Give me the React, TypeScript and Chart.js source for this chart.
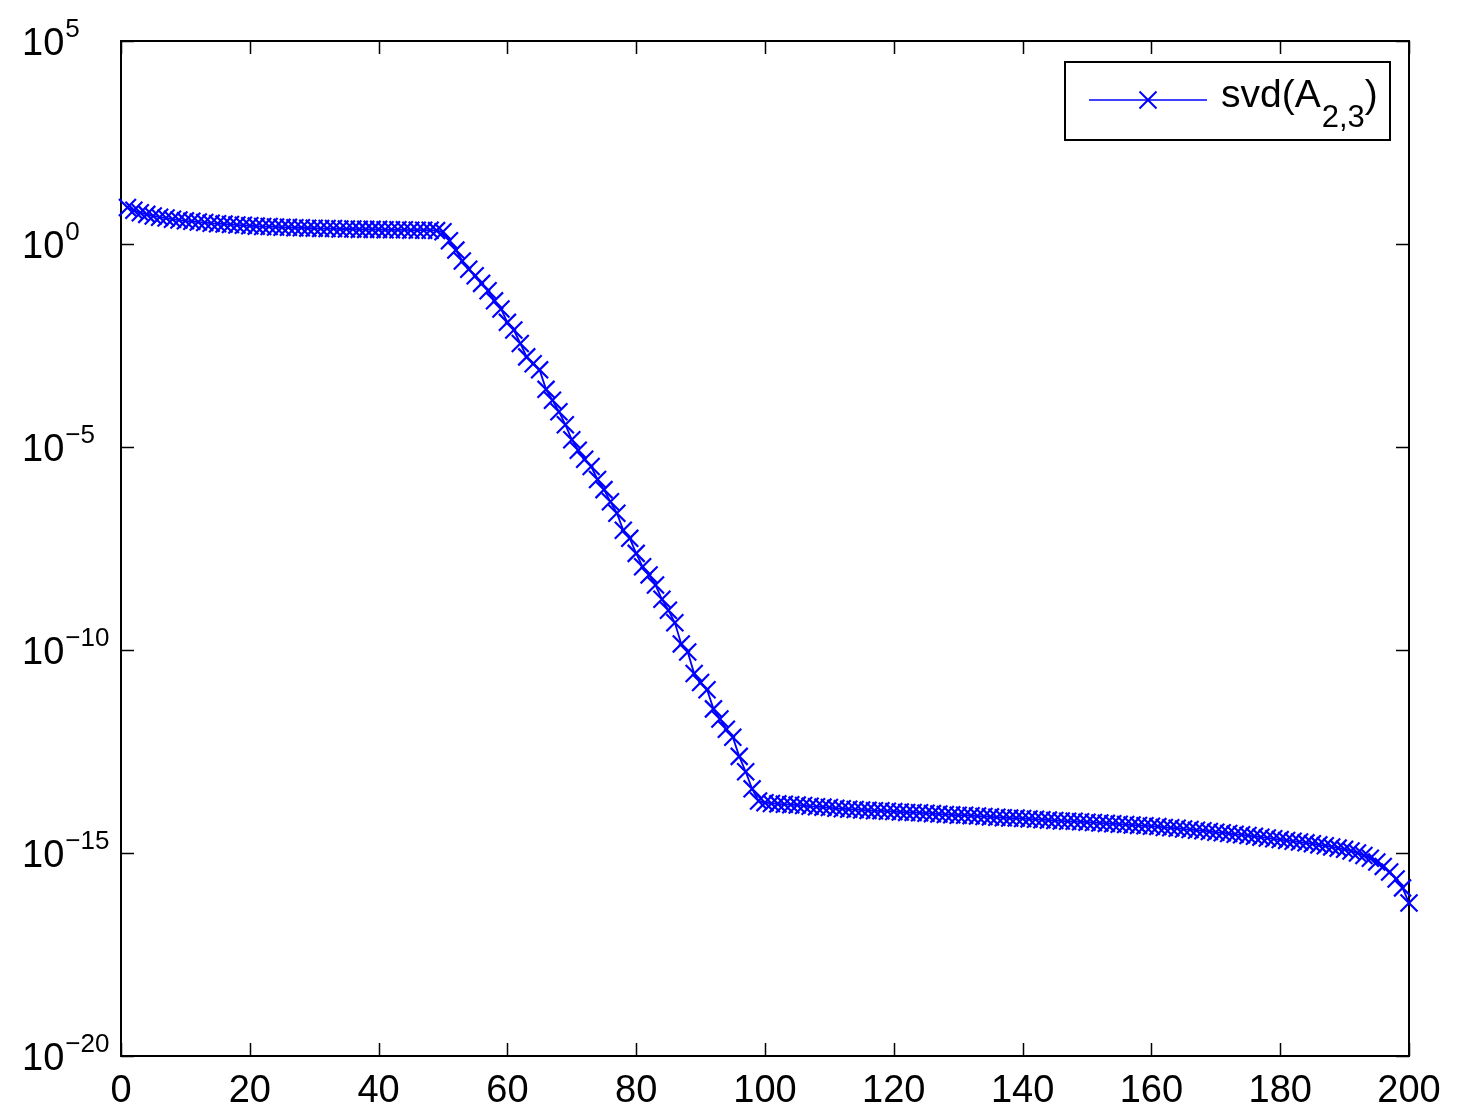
import React, { useEffect, useRef } from 'react';
import { Chart, registerables } from 'chart.js';

Chart.register(...registerables);

// Singular value index (1..200)
const indexCategories: number[] = Array.from({ length: 200 }, (_, i) => i + 1);

// log10 of the singular values
const log10Sigma: number[] = [
  // 1-10
  0.90, 0.83, 0.77, 0.73, 0.69, 0.66, 0.64, 0.61, 0.59, 0.57,
  // 11-20
  0.56, 0.54, 0.53, 0.51, 0.50, 0.49, 0.48, 0.47, 0.46, 0.45,
  // 21-30
  0.44, 0.43, 0.43, 0.42, 0.41, 0.41, 0.40, 0.40, 0.39, 0.39,
  // 31-40
  0.38, 0.38, 0.38, 0.37, 0.37, 0.37, 0.36, 0.36, 0.36, 0.36,
  // 41-50
  0.35, 0.35, 0.35, 0.35, 0.34, 0.34, 0.34, 0.34, 0.33, 0.30,
  // 51-60
  0.08, -0.15, -0.42, -0.62, -0.78, -0.97, -1.15, -1.40, -1.60, -1.93,
  // 61-70
  -2.12, -2.45, -2.78, -2.95, -3.10, -3.58, -3.85, -4.13, -4.45, -4.82,
  // 71-80
  -5.08, -5.30, -5.48, -5.80, -6.05, -6.35, -6.63, -7.05, -7.25, -7.62,
  // 81-90
  -7.95, -8.15, -8.40, -8.75, -9.02, -9.33, -9.85, -10.05, -10.58, -10.80,
  // 91-100
  -10.98, -11.45, -11.70, -11.95, -12.15, -12.62, -13.00, -13.42, -13.72, -13.76,
  // 101-110
  -13.78, -13.79, -13.80, -13.81, -13.82, -13.83, -13.85, -13.86, -13.87, -13.88,
  // 111-120
  -13.90, -13.91, -13.92, -13.93, -13.94, -13.95, -13.96, -13.96, -13.97, -13.98,
  // 121-130
  -13.99, -14.00, -14.00, -14.01, -14.02, -14.03, -14.04, -14.05, -14.06, -14.07,
  // 131-140
  -14.07, -14.08, -14.09, -14.10, -14.11, -14.12, -14.13, -14.14, -14.14, -14.15,
  // 141-150
  -14.16, -14.17, -14.18, -14.19, -14.20, -14.21, -14.22, -14.22, -14.23, -14.24,
  // 151-160
  -14.25, -14.26, -14.27, -14.28, -14.29, -14.30, -14.31, -14.32, -14.33, -14.34,
  // 161-170
  -14.35, -14.37, -14.38, -14.39, -14.41, -14.42, -14.44, -14.45, -14.47, -14.49,
  // 171-180
  -14.50, -14.52, -14.54, -14.55, -14.57, -14.59, -14.61, -14.63, -14.65, -14.67,
  // 181-190
  -14.69, -14.71, -14.73, -14.75, -14.77, -14.80, -14.82, -14.85, -14.88, -14.91,
  // 191-200
  -14.95, -15.00, -15.06, -15.13, -15.22, -15.33, -15.47, -15.64, -15.86, -16.23,
];

const xTickValues: number[] = [0, 20, 40, 60, 80, 100, 120, 140, 160, 180, 200];
const yTickExponents: number[] = [5, 0, -5, -10, -15, -20];

const seriesName = 'svd(A';
const seriesSub = '2,3';
const seriesClose = ')';

const FONT = '"Liberation Sans", Arial, Helvetica, sans-serif';
const BLUE = '#0000ff';

const framePlugin = {
  id: 'matlabFrame',
  beforeDatasetsDraw(chart: any) {
    const { ctx, chartArea } = chart;
    const xs = chart.scales.x;
    const ys = chart.scales.y;
    const { left, right, top, bottom } = chartArea;
    const tickLen = 13;
    ctx.save();
    ctx.strokeStyle = '#000';
    ctx.lineWidth = 2;
    ctx.strokeRect(left, top, right - left, bottom - top);
    ctx.lineWidth = 1.5;
    ctx.beginPath();
    xTickValues.forEach((v) => {
      const px = Math.round(xs.getPixelForValue(v)) + 0.5;
      ctx.moveTo(px, bottom);
      ctx.lineTo(px, bottom - tickLen);
      ctx.moveTo(px, top);
      ctx.lineTo(px, top + tickLen);
    });
    yTickExponents.forEach((e) => {
      const py = Math.round(ys.getPixelForValue(Math.pow(10, e))) + 0.5;
      ctx.moveTo(left, py);
      ctx.lineTo(left + tickLen, py);
      ctx.moveTo(right, py);
      ctx.lineTo(right - tickLen, py);
    });
    ctx.stroke();
    ctx.restore();
  },
  afterDraw(chart: any) {
    const { ctx, chartArea } = chart;
    const xs = chart.scales.x;
    const ys = chart.scales.y;
    ctx.save();
    ctx.fillStyle = '#000';
    // x tick labels
    ctx.font = `38px ${FONT}`;
    ctx.textAlign = 'center';
    ctx.textBaseline = 'alphabetic';
    xTickValues.forEach((v) => {
      ctx.fillText(String(v), xs.getPixelForValue(v), chartArea.bottom + 46);
    });
    // y tick labels 10^e
    yTickExponents.forEach((e) => {
      const py = ys.getPixelForValue(Math.pow(10, e));
      ctx.textAlign = 'left';
      ctx.font = `38px ${FONT}`;
      const base = '10';
      const x0 = 22;
      ctx.fillText(base, x0, py + 14);
      const w = ctx.measureText(base).width;
      ctx.font = `26px ${FONT}`;
      const expText = e < 0 ? '\u2212' + String(-e) : String(e);
      ctx.fillText(expText, x0 + w + 1, py - 4);
    });
    // legend
    const bx = 1065, by = 62, bw = 325, bh = 78;
    ctx.fillStyle = '#fff';
    ctx.fillRect(bx, by, bw, bh);
    ctx.strokeStyle = '#000';
    ctx.lineWidth = 2;
    ctx.strokeRect(bx, by, bw, bh);
    const ly = 100;
    ctx.strokeStyle = BLUE;
    ctx.lineWidth = 1.5;
    ctx.beginPath();
    ctx.moveTo(1089, ly);
    ctx.lineTo(1207, ly);
    ctx.stroke();
    ctx.lineWidth = 2;
    ctx.beginPath();
    const mx = 1148, a = 8.5;
    ctx.moveTo(mx - a, ly - a);
    ctx.lineTo(mx + a, ly + a);
    ctx.moveTo(mx + a, ly - a);
    ctx.lineTo(mx - a, ly + a);
    ctx.stroke();
    ctx.fillStyle = '#000';
    ctx.textAlign = 'left';
    ctx.font = `39px ${FONT}`;
    let tx = 1221;
    ctx.fillText(seriesName, tx, 107);
    tx += ctx.measureText(seriesName).width;
    ctx.font = `31px ${FONT}`;
    ctx.fillText(seriesSub, tx + 1, 127);
    tx += ctx.measureText(seriesSub).width + 1;
    ctx.font = `39px ${FONT}`;
    ctx.fillText(seriesClose, tx, 107);
    ctx.restore();
  },
};

export default function App() {
  const canvasRef = useRef<HTMLCanvasElement | null>(null);

  useEffect(() => {
    const canvas = canvasRef.current;
    if (!canvas) return;
    const data = indexCategories.map((x, i) => ({ x, y: Math.pow(10, log10Sigma[i]) }));
    const chart = new Chart(canvas, {
      type: 'line',
      data: {
        datasets: [
          {
            label: 'svd(A_{2,3})',
            data,
            borderColor: BLUE,
            backgroundColor: BLUE,
            borderWidth: 1.8,
            pointStyle: 'crossRot',
            pointRadius: 12,
            pointBorderWidth: 2.2,
            pointBorderColor: BLUE,
            pointBackgroundColor: BLUE,
            tension: 0,
            clip: false as any,
          },
        ],
      },
      options: {
        responsive: false,
        animation: false,
        maintainAspectRatio: false,
        layout: { padding: { left: 121, right: 61, top: 41, bottom: 53 } },
        scales: {
          x: {
            type: 'linear',
            min: 0,
            max: 200,
            ticks: { display: false },
            grid: { display: false },
            border: { display: false },
            afterFit: (s: any) => {
              s.height = 0;
            },
          },
          y: {
            type: 'logarithmic',
            min: 1e-20,
            max: 1e5,
            ticks: { display: false },
            grid: { display: false },
            border: { display: false },
            afterFit: (s: any) => {
              s.width = 0;
            },
          },
        },
        plugins: {
          legend: { display: false },
          tooltip: { enabled: false },
        },
      },
      plugins: [framePlugin],
    });
    return () => chart.destroy();
  }, []);

  return (
    <div style={{ position: 'fixed', left: 0, top: 0, width: 1470, height: 1109, background: '#fff' }}>
      <canvas ref={canvasRef} width={1470} height={1109} style={{ width: 1470, height: 1109, display: 'block' }} />
    </div>
  );
}
